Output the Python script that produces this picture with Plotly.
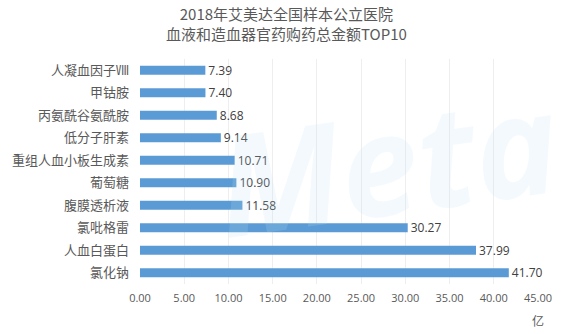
import plotly.graph_objects as go

# Top-10 blood and hematopoietic drugs, 2018 purchase amount (亿元)
drugs = ["人凝血因子Ⅷ", "甲钴胺", "丙氨酰谷氨酰胺", "低分子肝素", "重组人血小板生成素",
         "葡萄糖", "腹膜透析液", "氯吡格雷", "人血白蛋白", "氯化钠"]
amounts = [7.39, 7.40, 8.68, 9.14, 10.71, 10.90, 11.58, 30.27, 37.99, 41.70]
x_ticks = [0, 5, 10, 15, 20, 25, 30, 35, 40, 45]

fig = go.Figure(go.Bar(
    x=amounts,
    y=drugs,
    orientation="h",
    marker=dict(color="#5B9BD5", line=dict(width=0)),
    width=0.4,
    text=[f"{v:.2f}" for v in amounts],
    textposition="outside",
    constraintext="none",
    textfont=dict(size=12, color="#404040", family="Open Sans, Noto Sans CJK SC"),
    cliponaxis=False,
))

fig.update_layout(
    width=570, height=334,
    margin=dict(l=137, r=32, t=59, b=50),
    paper_bgcolor="white",
    plot_bgcolor="white",
    font=dict(family="Noto Sans CJK SC", color="#595959"),
    showlegend=False,
    annotations=[
        dict(text="<i><b>Meta</b></i>", x=0.62, y=0.55, xref="paper", yref="paper",
             showarrow=False, textangle=-8,
             font=dict(size=140, color="rgba(190,220,242,0.18)", family="Open Sans")),
        dict(text="2018年艾美达全国样本公立医院<br>血液和造血器官药购药总金额TOP10",
             x=0.369, y=1.26, xref="paper", yref="paper", xanchor="center", yanchor="top",
             showarrow=False,
             font=dict(size=15, color="#595959", family="Noto Sans CJK SC")),
        dict(text="亿", x=45, y=0, xref="x", yref="paper", xanchor="center", yanchor="top",
             yshift=-26, showarrow=False, font=dict(size=12, color="#595959")),
    ],
)

fig.update_xaxes(
    range=[0, 45],
    tickvals=x_ticks,
    ticktext=[f"{t:.2f}" for t in x_ticks],
    tickfont=dict(size=11, color="#595959", family="Open Sans"),
    showgrid=True, gridcolor="#eeeeee", gridwidth=1,
    zeroline=False, showline=False, ticks="", ticklen=0, ticklabelstandoff=6,
)
fig.update_yaxes(
    categoryorder="array",
    categoryarray=drugs[::-1],
    tickfont=dict(size=13, color="#595959", family="Noto Sans CJK SC"),
    showgrid=False, showline=False, ticks="", ticklabelstandoff=10,
)

fig.write_html("out.html")
